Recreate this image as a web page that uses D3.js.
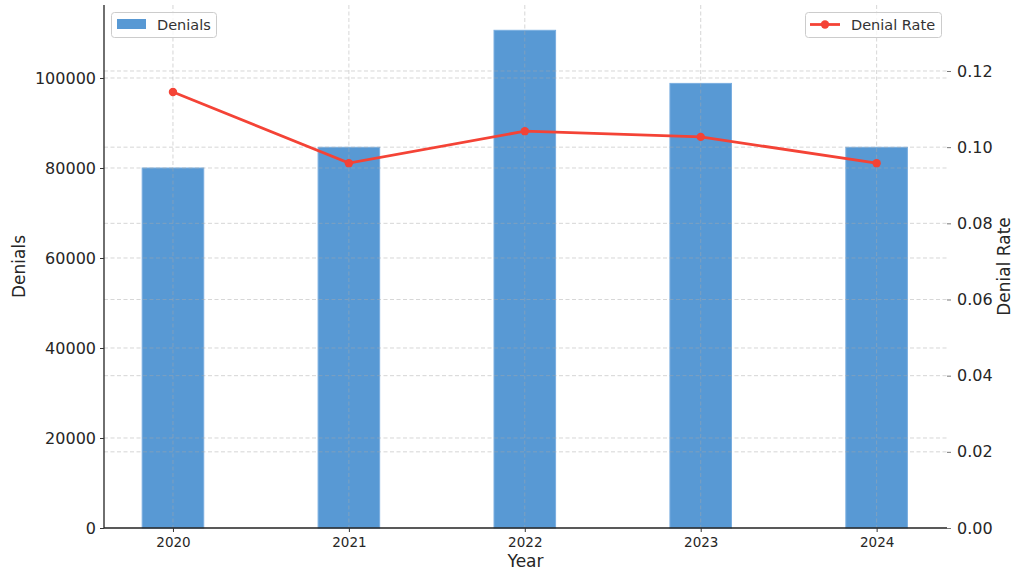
<!DOCTYPE html>
<html><head><meta charset="utf-8">
<script src="https://cdn.jsdelivr.net/npm/d3@7"></script>
<style>body{margin:0;background:#fff;font-family:"DejaVu Sans",sans-serif;}</style>
</head><body>
<svg id="c" width="1024" height="581"></svg>
<script>
const years = [2020, 2021, 2022, 2023, 2024];
const denials = [80000, 84600, 110600, 98800, 84600];
const denialRate = [0.1145, 0.0958, 0.1042, 0.1027, 0.0958];
const leftTicks = [0, 20000, 40000, 60000, 80000, 100000];
const rightTicks = [0, 0.02, 0.04, 0.06, 0.08, 0.10, 0.12];

const svg = d3.select("#c");
const L = 104, R = 947, T = 5, B = 528;
const x = d3.scaleLinear().domain([2019.608, 2024.40]).range([L, R]);
const yL = d3.scaleLinear().domain([0, 116222]).range([B, T]);
const yR = d3.scaleLinear().domain([0, 0.13733]).range([B, T]);
const barW = x(2020.35) - x(2020);
const font = "DejaVu Sans, sans-serif";

// bars
svg.append("g").selectAll("rect").data(years).join("rect")
  .attr("x", (d) => x(d) - barW / 2).attr("width", barW)
  .attr("y", (d, i) => yL(denials[i])).attr("height", (d, i) => B - yL(denials[i]))
  .attr("fill", "#5899d4").attr("stroke", "#7aaee0").attr("stroke-width", 1);

// grid
const grid = svg.append("g").attr("stroke", "#a8a8a8").attr("stroke-opacity", 0.6)
  .attr("stroke-dasharray", "4,2.5").attr("stroke-width", 0.8);
grid.selectAll(".gl").data(leftTicks.slice(1)).join("line")
  .attr("x1", L).attr("x2", R).attr("y1", (d) => yL(d)).attr("y2", (d) => yL(d));
grid.selectAll(".gr").data(rightTicks.slice(1)).join("line").attr("class", "gr")
  .attr("x1", L).attr("x2", R).attr("y1", (d) => yR(d)).attr("y2", (d) => yR(d));
grid.selectAll(".gv").data(years).join("line").attr("class", "gv")
  .attr("x1", (d) => x(d)).attr("x2", (d) => x(d)).attr("y1", T).attr("y2", B);

// line
const line = d3.line().x((d, i) => x(years[i])).y((d) => yR(d));
svg.append("path").datum(denialRate).attr("d", line).attr("fill", "none")
  .attr("stroke", "#f44336").attr("stroke-width", 2.8);
svg.append("g").selectAll("circle").data(denialRate).join("circle")
  .attr("cx", (d, i) => x(years[i])).attr("cy", (d) => yR(d)).attr("r", 4.2)
  .attr("fill", "#f44336");

// axes
const axL = svg.append("g").attr("transform", `translate(${L},0)`)
  .call(d3.axisLeft(yL).tickValues(leftTicks).tickFormat(d3.format("d")).tickSize(4).tickPadding(4));
axL.select(".domain").attr("stroke", "#222").attr("stroke-width", 1.3).attr("d", `M0,${T}V${B}`);
axL.selectAll("text").attr("font-size", 16).attr("font-family", font).attr("fill", "#262626");
axL.selectAll(".tick line").attr("stroke", "#333");

const axR = svg.append("g").attr("transform", `translate(${R},0)`)
  .call(d3.axisRight(yR).tickValues(rightTicks).tickFormat(d3.format(".2f")).tickSize(4).tickPadding(6));
axR.select(".domain").remove();
axR.selectAll("text").attr("font-size", 16).attr("font-family", font).attr("fill", "#262626");
axR.selectAll(".tick line").attr("stroke", "#777");

const axB = svg.append("g").attr("transform", `translate(0,${B})`)
  .call(d3.axisBottom(x).tickValues(years).tickFormat(d3.format("d")).tickSize(4).tickPadding(5));
axB.select(".domain").attr("stroke", "#222").attr("stroke-width", 1.3).attr("d", `M${L},0H${R}`);
axB.selectAll("text").attr("font-size", 13.5).attr("font-family", font).attr("fill", "#262626");
axB.selectAll(".tick line").attr("stroke", "#333");

// titles
svg.append("text").attr("x", (L + R) / 2).attr("y", 567).attr("text-anchor", "middle")
  .attr("font-size", 17).attr("font-family", font).attr("fill", "#262626").text("Year");
svg.append("text").attr("transform", `translate(25,${(T + B) / 2}) rotate(-90)`).attr("text-anchor", "middle")
  .attr("font-size", 17).attr("font-family", font).attr("fill", "#262626").text("Denials");
svg.append("text").attr("transform", `translate(1010,${(T + B) / 2}) rotate(-90)`).attr("text-anchor", "middle")
  .attr("font-size", 17).attr("font-family", font).attr("fill", "#262626").text("Denial Rate");

// legends
const lg1 = svg.append("g");
lg1.append("rect").attr("x", 111.5).attr("y", 12.5).attr("width", 105).attr("height", 25).attr("rx", 3)
  .attr("fill", "#fff").attr("fill-opacity", 0.8).attr("stroke", "#ccc");
lg1.append("rect").attr("x", 117).attr("y", 19).attr("width", 29).attr("height", 10).attr("fill", "#5899d4");
lg1.append("text").attr("x", 157).attr("y", 30).attr("font-size", 14.5).attr("font-family", font)
  .attr("fill", "#333").text("Denials");

const lg2 = svg.append("g");
lg2.append("rect").attr("x", 805.5).attr("y", 12.5).attr("width", 136).attr("height", 25).attr("rx", 3)
  .attr("fill", "#fff").attr("fill-opacity", 0.8).attr("stroke", "#ccc");
lg2.append("line").attr("x1", 810).attr("x2", 840).attr("y1", 24.5).attr("y2", 24.5)
  .attr("stroke", "#f44336").attr("stroke-width", 2.8);
lg2.append("circle").attr("cx", 825).attr("cy", 24.5).attr("r", 4.2).attr("fill", "#f44336");
lg2.append("text").attr("x", 851).attr("y", 30).attr("font-size", 14.5).attr("font-family", font)
  .attr("fill", "#333").text("Denial Rate");
</script>
</body></html>
